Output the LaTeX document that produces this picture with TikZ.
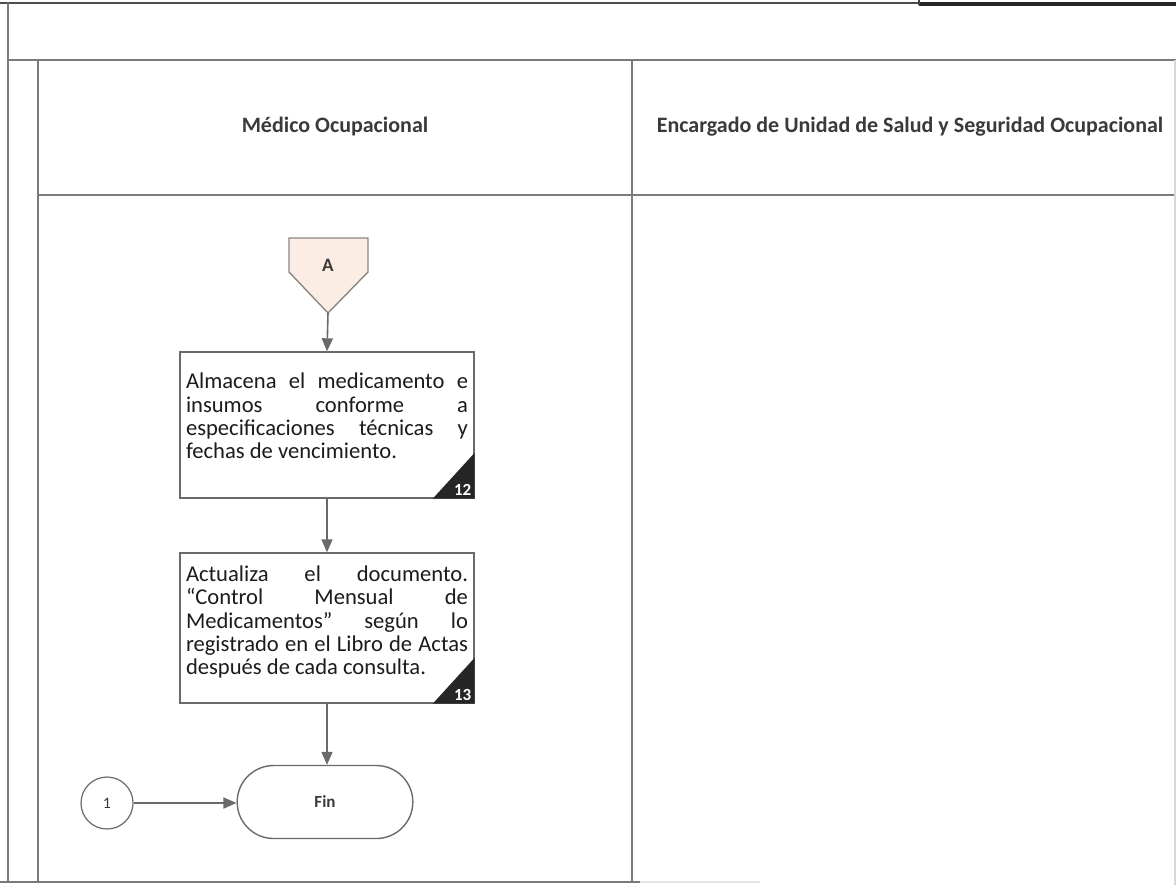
\documentclass[tikz,border=0pt]{standalone}
\usepackage{fontspec}
\setmainfont{Carlito}
\usetikzlibrary{arrows.meta,shapes.misc}

\definecolor{laneline}{HTML}{7A7A7A}
\definecolor{shapeline}{HTML}{6A6A6A}
\definecolor{headtext}{HTML}{3A3A3A}
\definecolor{bodytext}{HTML}{1C1C1C}
\definecolor{offpagefill}{HTML}{FCEDE4}
\definecolor{cornerfill}{HTML}{262626}

\tikzset{
  lane/.style={draw=laneline, line width=0.7pt},
  lanehead/.style={font=\fontsize{11}{13}\selectfont\bfseries, text=headtext},
  procbox/.style={draw=shapeline, line width=0.7pt, fill=white,
    minimum width=147pt, minimum height=73pt, text width=141pt,
    inner xsep=3pt, align=justify, text=bodytext,
    font=\fontsize{11.3}{11.6}\selectfont},
  stepno/.style={text=white, font=\fontsize{8.5}{9}\selectfont\bfseries,
    anchor=south east, inner sep=1.5pt},
  terminal/.style={draw=shapeline, line width=0.7pt, rounded rectangle,
    minimum width=94.5pt, minimum height=36.5pt,
    font=\fontsize{8.5}{9}\selectfont\bfseries, text=headtext},
  connector/.style={draw=shapeline, line width=0.6pt, circle,
    minimum size=26pt, inner sep=0pt, font=\fontsize{8}{9}\selectfont, text=headtext},
  offpage/.style={draw=shapeline!80, line width=0.7pt, fill=offpagefill},
  flow/.style={draw=shapeline, line width=0.8pt,
    -{Triangle[length=6.5pt,width=5.5pt]}},
}

\begin{document}
\begin{tikzpicture}[x=0.5pt, y=-0.5pt]
  \useasboundingbox (0,0) rectangle (1176,885);
  \fill[white] (0,0) rectangle (1176,885);

  % table frame
  \draw[draw=black!70, line width=0.9pt] (0,3) -- (919,3);
  \draw[draw=black!85, line width=1.8pt] (919,4) -- (1176,4);
  \draw[draw=black!75, line width=0.8pt] (919,0) -- (919,5);
  \draw[lane] (8,3) -- (8,882);
  \draw[lane] (8,60) -- (1176,60);
  \draw[lane] (38,60) -- (38,882);
  \draw[lane] (632,60) -- (632,882);
  \draw[lane] (38,195) -- (1176,195);
  \draw[lane] (0,882) -- (640,882);
  \draw[draw=laneline!20, line width=0.6pt] (640,882) -- (760,882);
  \draw[draw=laneline!30, line width=0.6pt] (1175,60) -- (1175,885);

  % lane titles
  \node[lanehead] (laneA) at (335,127) {Médico Ocupacional};
  \node[lanehead] (laneB) at (910,127) {Encargado de Unidad de Salud y Seguridad Ocupacional};

  % off-page connector A
  \filldraw[offpage] (289,238) -- (368,238) -- (368,272) -- (328,313) -- (289,272) -- cycle;
  \node[font=\fontsize{9.5}{11}\selectfont\bfseries, text=headtext] (A) at (328,265) {A};
  \coordinate (Atip) at (328,313);

  % step 12
  \node[procbox] (b12) at (327,425)
    {Almacena el medicamento e\linebreak insumos conforme a\linebreak
     especificaciones técnicas y\linebreak fechas de vencimiento.\par\vspace{9pt}};
  \fill[cornerfill] (b12.south east) -- ++(-42,0) -- ++(42,-46) -- cycle;
  \node[stepno] (n12) at (b12.south east) {12};

  % step 13
  \node[procbox, minimum height=75pt] (b13) at (327,628)
    {Actualiza el documento.\linebreak “Control Mensual de\linebreak
     Medicamentos” según lo\linebreak registrado en el Libro de Actas\linebreak
     después de cada consulta.\par\vspace{6pt}};
  \fill[cornerfill] (b13.south east) -- ++(-42,0) -- ++(42,-46) -- cycle;
  \node[stepno] (n13) at (b13.south east) {13};

  % end
  \node[terminal] (fin) at (325,802) {Fin};
  \node[connector] (c1) at (107,803) {1};

  % flow
  \draw[flow] (Atip) -- (b12.north);
  \draw[flow] (b12.south) -- (b13.north);
  \draw[flow] (b13.south) -- (b13.south |- fin.north);
  \draw[flow] (c1.east) -- (fin.west |- c1.east);
\end{tikzpicture}
\end{document}
